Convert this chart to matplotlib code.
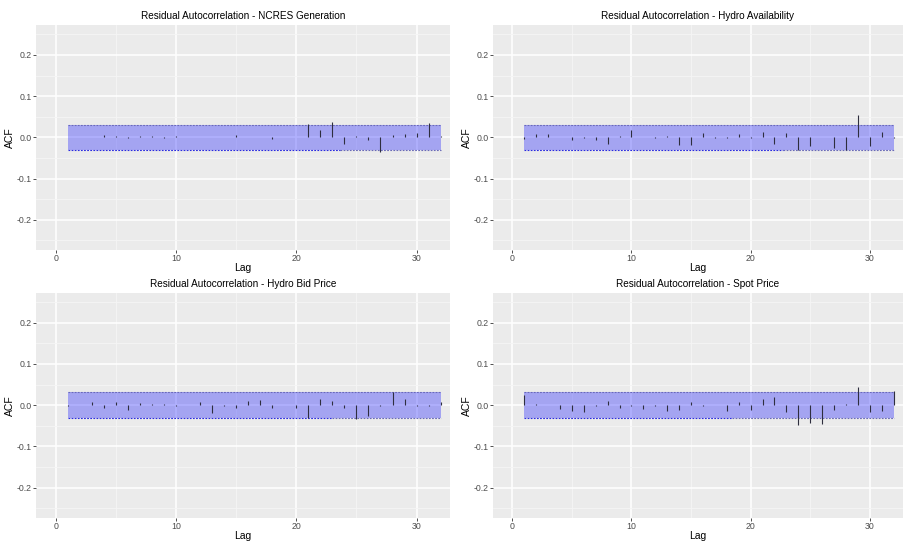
import matplotlib.pyplot as plt
import numpy as np

plt.rcParams['font.family'] = ['Liberation Sans', 'DejaVu Sans']

lags = np.arange(1, 33)

# residual ACF values per series, lags 1..32
acf_ncres = [0.001, 0.001, 0.002, 0.006, 0.003, -0.002, 0.004, 0.003, -0.002, 0.003,
             0.002, 0.001, 0.001, 0.002, 0.005, 0.002, 0.000, -0.003, 0.001, 0.001,
             0.032, 0.017, 0.037, -0.016, 0.003, -0.007, -0.036, 0.007, 0.009, 0.010,
             0.035, 0.003]
acf_hydro_av = [-0.003, 0.008, 0.008, 0.002, -0.006, -0.001, -0.007, -0.017, 0.003, 0.017,
                0.001, -0.001, 0.003, -0.018, -0.018, 0.010, -0.002, -0.002, 0.008, -0.002,
                0.012, -0.016, 0.010, -0.031, -0.022, 0.002, -0.025, -0.030, 0.055, -0.022,
                0.012, -0.002]
acf_bid = [-0.002, 0.000, 0.008, -0.007, 0.007, -0.012, 0.006, 0.003, 0.004, -0.001,
           0.001, 0.007, -0.018, -0.003, -0.006, 0.010, 0.012, -0.006, 0.001, -0.006,
           -0.030, 0.016, 0.011, -0.006, -0.033, -0.026, -0.001, 0.031, 0.014, -0.002,
           -0.001, 0.008]
acf_spot = [0.025, 0.003, 0.000, -0.008, -0.013, -0.016, -0.003, 0.011, -0.006, -0.002,
            -0.009, -0.002, -0.014, -0.012, 0.007, -0.002, 0.000, -0.014, 0.007, -0.012,
            0.015, 0.019, -0.016, -0.048, -0.042, -0.046, -0.011, 0.003, 0.043, -0.017,
            -0.015, 0.035]

titles = ['Residual Autocorrelation - NCRES Generation',
          'Residual Autocorrelation - Hydro Availability',
          'Residual Autocorrelation - Hydro Bid Price',
          'Residual Autocorrelation - Spot Price']
series = [acf_ncres, acf_hydro_av, acf_bid, acf_spot]
conf = 0.031   # significance band half-width
band_split = [23.6, 22.7, 23.0, 18.4]  # where the lower dashed edge changes colour

# panel boxes in figure fractions [left, bottom, width, height]
boxes = [[0.040, 0.538, 0.458, 0.416],
         [0.545, 0.538, 0.454, 0.416],
         [0.040, 0.043, 0.458, 0.416],
         [0.545, 0.043, 0.454, 0.416]]

fig = plt.figure(figsize=(9.04, 5.41), dpi=100)

for box, title, vals, split in zip(boxes, titles, series, band_split):
    ax = fig.add_axes(box)
    ax.set_facecolor('#EBEBEB')
    for s in ax.spines.values():
        s.set_visible(False)
    ax.set_xlim(-1.65, 32.8)
    ax.set_ylim(-0.273, 0.273)
    ax.set_xticks([0, 10, 20, 30])
    ax.set_xticks([5, 15, 25], minor=True)
    ax.set_yticks([-0.2, -0.1, 0.0, 0.1, 0.2])
    ax.set_yticklabels(['-0.2', '-0.1', '0.0', '0.1', '0.2'])
    ax.set_yticks([-0.25, -0.15, -0.05, 0.05, 0.15, 0.25], minor=True)
    ax.grid(which='major', color='white', lw=1.1, zorder=0)
    ax.grid(which='minor', color='#F5F5F5', lw=0.6, zorder=0)
    ax.set_axisbelow(True)
    ax.tick_params(which='major', length=2.0, width=0.6, color='#333333',
                   labelsize=6.3, labelcolor='#4D4D4D', pad=1)
    ax.tick_params(which='minor', length=0)

    # confidence band
    ax.fill_between([1, 32], -conf, conf, color='blue', alpha=0.3, lw=0, zorder=2)
    ax.plot([1, 32], [conf, conf], ls=(0, (1.6, 1.2)), color='#6a6ab8', lw=0.8, zorder=3)
    ax.plot([split, 32], [-conf, -conf], ls=(0, (1.6, 1.2)), color='#6a6ab8', lw=0.8, zorder=3)
    ax.plot([1, split], [-conf, -conf], ls=(0, (1.6, 1.2)), color='#2b2be0', lw=0.8, zorder=3)

    # ACF spikes
    ax.vlines(lags, 0, vals, color='#2e2e3e', lw=0.8, zorder=4)

    ax.set_title(title, fontsize=7.2, pad=4)
    ax.set_xlabel('Lag', fontsize=7.5, labelpad=0)
    ax.set_ylabel('ACF', fontsize=7.5, labelpad=1)

plt.savefig('out.png', dpi=100)
